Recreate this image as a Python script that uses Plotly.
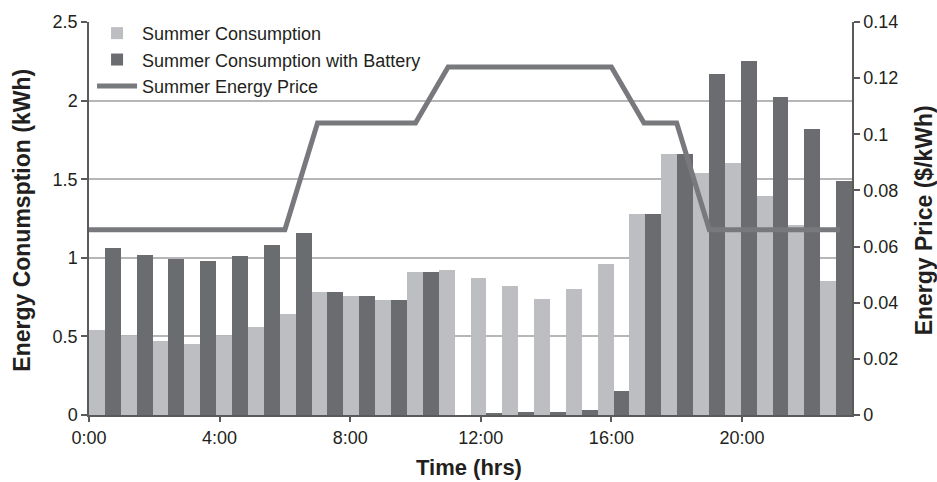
import plotly.graph_objects as go

# datos por hora (0..23)
horas = list(range(24))
etiquetas_hora = ["0:00", "4:00", "8:00", "12:00", "16:00", "20:00"]
ticks_hora = [0, 4, 8, 12, 16, 20]

consumo = [0.54, 0.50, 0.47, 0.45, 0.50, 0.56, 0.64, 0.78, 0.76, 0.73, 0.91, 0.92,
           0.87, 0.82, 0.74, 0.80, 0.96, 1.28, 1.66, 1.54, 1.60, 1.39, 1.21, 0.85]
consumo_bateria = [1.06, 1.02, 0.99, 0.98, 1.01, 1.08, 1.16, 0.78, 0.76, 0.73, 0.91, 0.0,
                   0.01, 0.02, 0.02, 0.035, 0.15, 1.28, 1.66, 2.17, 2.25, 2.02, 1.82, 1.49]
precio = [0.066, 0.066, 0.066, 0.066, 0.066, 0.066, 0.066, 0.104, 0.104, 0.104, 0.104, 0.124,
          0.124, 0.124, 0.124, 0.124, 0.124, 0.104, 0.104, 0.066, 0.066, 0.066, 0.066, 0.066]

FUENTE = "Liberation Sans, Arial, sans-serif"
TEXTO = "#231f20"
EJE = "#5a5a5a"

fig = go.Figure()

# barras de consumo
fig.add_trace(go.Bar(
    x=horas, y=consumo, name="Summer Consumption",
    marker=dict(color="#bdbec2", line=dict(width=0)),
    xaxis="x", yaxis="y"
))
fig.add_trace(go.Bar(
    x=horas, y=consumo_bateria, name="Summer Consumption with Battery",
    marker=dict(color="#6b6c70", line=dict(width=0)),
    xaxis="x", yaxis="y"
))

# precio en eje secundario
fig.add_trace(go.Scatter(
    x=horas, y=precio, name="Summer Energy Price",
    mode="lines", line=dict(color="#78797d", width=5),
    xaxis="x2", yaxis="y2"
))

fig.update_layout(
    width=937, height=482,
    margin=dict(l=89, r=85, t=17, b=67),
    paper_bgcolor="white", plot_bgcolor="white",
    font=dict(family=FUENTE, size=18, color=TEXTO),
    barmode="group", bargap=0, bargroupgap=0,
    showlegend=True,
    legend=dict(
        x=0.004, y=1.018, xanchor="left", yanchor="top",
        bgcolor="rgba(0,0,0,0)", font=dict(size=18, color=TEXTO),
        tracegroupgap=0, itemwidth=40
    ),
    xaxis=dict(
        range=[-0.5, 23.5], showticklabels=False, ticks="",
        showgrid=False, zeroline=False,
        showline=True, linecolor=EJE, linewidth=1.5
    ),
    yaxis=dict(
        range=[0, 2.5], tickvals=[0, 0.5, 1, 1.5, 2, 2.5],
        ticktext=["0", "0.5", "1", "1.5", "2", "2.5"],
        showgrid=True, gridcolor="#b6b6b6", gridwidth=1.5, zeroline=False,
        showline=True, linecolor=EJE, linewidth=1.5,
        ticks="outside", ticklen=6, tickcolor=EJE, tickwidth=1.5
    ),
    xaxis2=dict(
        overlaying="x", side="bottom", range=[0, 23.37],
        tickvals=ticks_hora, ticktext=etiquetas_hora,
        ticks="outside", ticklen=6, tickcolor=EJE, tickwidth=1.5,
        showgrid=False, zeroline=False, showline=False
    ),
    yaxis2=dict(
        overlaying="y", side="right", range=[0, 0.14],
        tickvals=[0, 0.02, 0.04, 0.06, 0.08, 0.1, 0.12, 0.14],
        ticktext=["0", "0.02", "0.04", "0.06", "0.08", "0.1", "0.12", "0.14"],
        showgrid=False, zeroline=False,
        showline=True, linecolor=EJE, linewidth=1.5,
        ticks="outside", ticklen=6, tickcolor=EJE, tickwidth=1.5
    ),
    annotations=[
        dict(text="<b>Energy Conumsption (kWh)</b>", textangle=-90,
             xref="paper", yref="paper", x=-0.0875, y=0.495,
             xanchor="center", yanchor="middle", showarrow=False,
             font=dict(size=23, color=TEXTO)),
        dict(text="<b>Energy Price ($/kWh)</b>", textangle=-90,
             xref="paper", yref="paper", x=1.0955, y=0.495,
             xanchor="center", yanchor="middle", showarrow=False,
             font=dict(size=23, color=TEXTO)),
        dict(text="<b>Time (hrs)</b>",
             xref="paper", yref="paper", x=0.498, y=-0.133,
             xanchor="center", yanchor="middle", showarrow=False,
             font=dict(size=22, color=TEXTO)),
    ]
)

# quitar el margen del body para que la figura ocupe la ventana
fig.write_html("out.html", config={"displayModeBar": False},
               post_script="document.body.style.margin='0';")
